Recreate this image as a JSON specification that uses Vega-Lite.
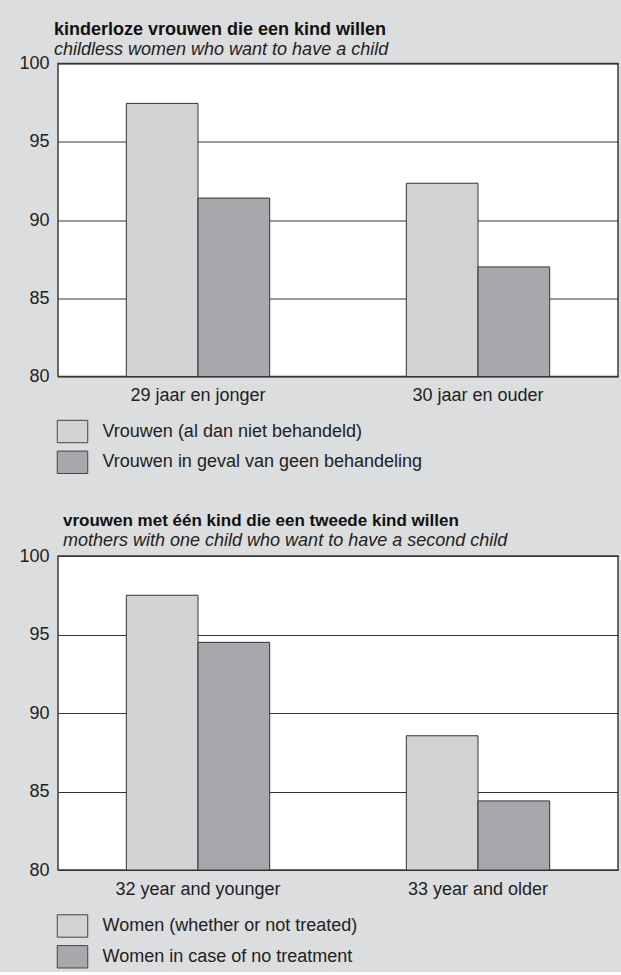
{
  "$schema": "https://vega.github.io/schema/vega-lite/v6.json",
  "background": "#dcdddf",
  "padding": {"left": 18, "top": 19.5, "right": 4, "bottom": 0},
  "config": {
    "font": "Liberation Sans",
    "view": {"stroke": "#3a3a3a", "strokeWidth": 1.5, "fill": "white"},
    "axis": {"domain": false, "ticks": false, "labelFontSize": 18, "labelColor": "#222", "title": null},
    "axisY": {"gridColor": "#333", "gridWidth": 1.2, "gridOpacity": 1, "labelPadding": 9},
    "axisX": {"grid": false, "labelPadding": 10, "labelAngle": 0},
    "legend": {"labelFontSize": 18, "labelColor": "#222", "title": null, "labelLimit": 500},
    "title": {"anchor": "start", "frame": "group", "fontSize": 18, "fontWeight": "bold", "color": "#111", "subtitleFontSize": 18, "subtitleFontStyle": "italic", "subtitleColor": "#222", "subtitlePadding": 2, "offset": -4},
    "concat": {"spacing": 34.5}
  },
  "vconcat": [
    {
      "title": {"text": "kinderloze vrouwen die een kind willen", "subtitle": "childless women who want to have a child", "dx": -4},
      "width": 560,
      "height": 313,
      "data": {"values": [
        {"age": "29 jaar en jonger", "group": "Vrouwen (al dan niet behandeld)", "value": 97.45},
        {"age": "29 jaar en jonger", "group": "Vrouwen in geval van geen behandeling", "value": 91.4},
        {"age": "30 jaar en ouder", "group": "Vrouwen (al dan niet behandeld)", "value": 92.35},
        {"age": "30 jaar en ouder", "group": "Vrouwen in geval van geen behandeling", "value": 87.0}
      ]},
      "mark": {"type": "bar", "stroke": "#333", "strokeWidth": 1},
      "encoding": {
        "x": {"field": "age", "type": "nominal", "sort": null, "scale": {"paddingInner": 0.488, "paddingOuter": 0.244}},
        "xOffset": {"field": "group", "type": "nominal", "sort": null, "scale": {"paddingInner": 0, "paddingOuter": 0}},
        "y": {"field": "value", "type": "quantitative", "scale": {"domain": [80, 100], "nice": false, "zero": false}, "axis": {"values": [80, 85, 90, 95, 100]}},
        "y2": {"datum": 80},
        "fill": {"field": "group", "type": "nominal", "sort": null, "scale": {"range": ["#d1d2d4", "#a7a8ab"]},
          "legend": {"orient": "none", "legendX": -1.5, "legendY": 352, "symbolType": "M-1,-0.734L1,-0.734L1,0.734L-1,0.734Z", "symbolSize": 930, "symbolStrokeColor": "#444", "symbolStrokeWidth": 1, "labelOffset": 14, "rowPadding": 0.8}}
      }
    },
    {
      "title": {"text": "vrouwen met één kind die een tweede kind willen", "subtitle": "mothers with one child who want to have a second child", "dx": 5, "fontSize": 17},
      "width": 560,
      "height": 314,
      "data": {"values": [
        {"age": "32 year and younger", "group": "Women (whether or not treated)", "value": 97.5},
        {"age": "32 year and younger", "group": "Women in case of no treatment", "value": 94.5},
        {"age": "33 year and older", "group": "Women (whether or not treated)", "value": 88.55},
        {"age": "33 year and older", "group": "Women in case of no treatment", "value": 84.4}
      ]},
      "mark": {"type": "bar", "stroke": "#333", "strokeWidth": 1},
      "encoding": {
        "x": {"field": "age", "type": "nominal", "sort": null, "scale": {"paddingInner": 0.488, "paddingOuter": 0.244}},
        "xOffset": {"field": "group", "type": "nominal", "sort": null, "scale": {"paddingInner": 0, "paddingOuter": 0}},
        "y": {"field": "value", "type": "quantitative", "scale": {"domain": [80, 100], "nice": false, "zero": false}, "axis": {"values": [80, 85, 90, 95, 100]}},
        "y2": {"datum": 80},
        "fill": {"field": "group", "type": "nominal", "sort": null, "scale": {"range": ["#d1d2d4", "#a7a8ab"]},
          "legend": {"orient": "none", "legendX": -1.5, "legendY": 354, "symbolType": "M-1,-0.734L1,-0.734L1,0.734L-1,0.734Z", "symbolSize": 930, "symbolStrokeColor": "#444", "symbolStrokeWidth": 1, "labelOffset": 14, "rowPadding": 0.8}}
      }
    }
  ],
  "resolve": {"scale": {"x": "independent", "xOffset": "independent", "y": "independent", "fill": "independent"}}
}
